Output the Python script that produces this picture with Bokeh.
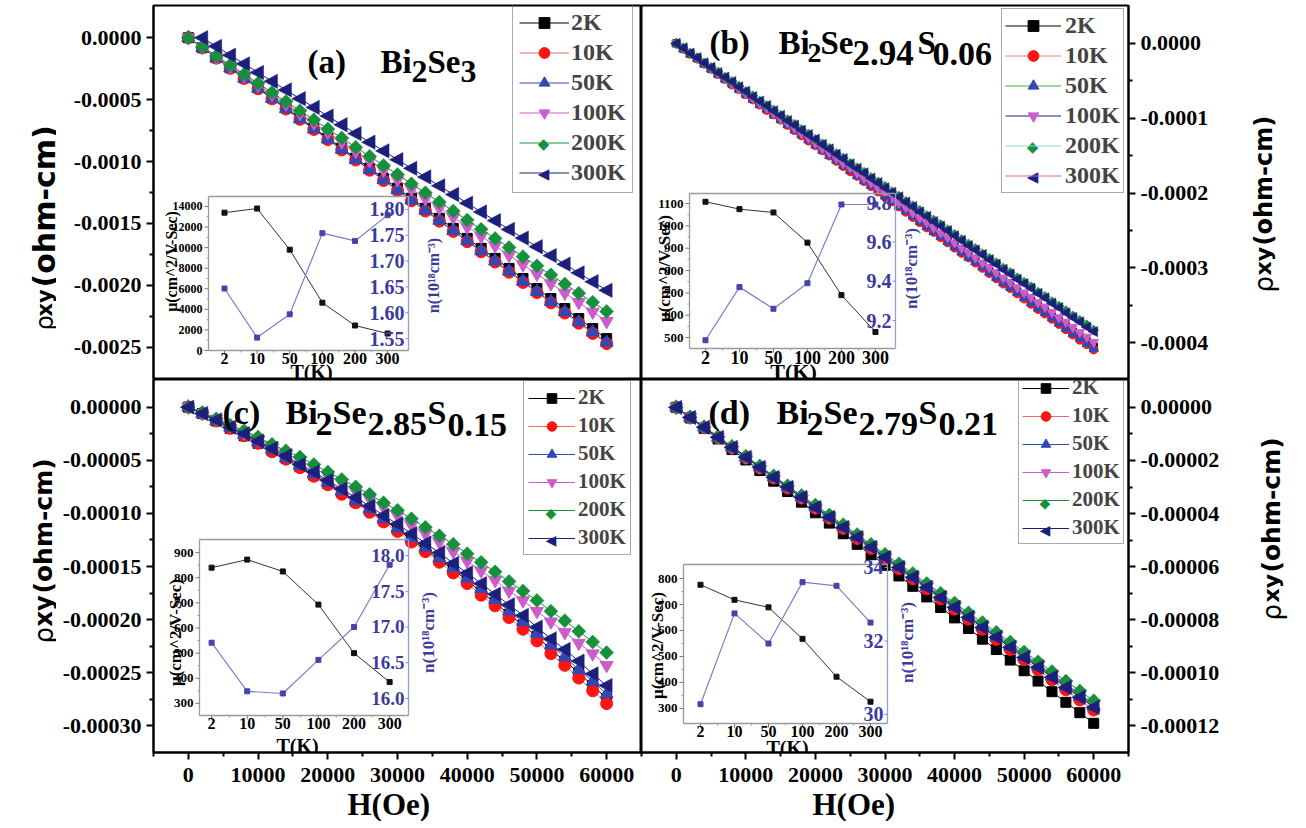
import numpy as np
from bokeh.plotting import figure
from bokeh.models import (Range1d, Label, FixedTicker, NumeralTickFormatter, Legend, LegendItem, Title)
from bokeh.layouts import column, row
from bokeh.embed import file_html
from bokeh.resources import INLINE

# ---------------- data ----------------
RHO_UNIT = 1e-6  # values below are in micro-ohm-cm

H2 = [0, 2000, 4000, 6000, 8000, 10000, 12000, 14000, 16000, 18000, 20000, 22000, 24000, 26000,
      28000, 30000, 32000, 34000, 36000, 38000, 40000, 42000, 44000, 46000, 48000, 50000, 52000,
      54000, 56000, 58000, 60000]
H1 = [0, 1000, 2000, 3000, 4000, 5000, 6000, 7000, 8000, 9000, 10000, 11000, 12000, 13000, 14000,
      15000, 16000, 17000, 18000, 19000, 20000, 21000, 22000, 23000, 24000, 25000, 26000, 27000,
      28000, 29000, 30000, 31000, 32000, 33000, 34000, 35000, 36000, 37000, 38000, 39000, 40000,
      41000, 42000, 43000, 44000, 45000, 46000, 47000, 48000, 49000, 50000, 51000, 52000, 53000,
      54000, 55000, 56000, 57000, 58000, 59000, 60000]
H2_300K_A = [2000, 4000, 6000, 8000, 10000, 12000, 14000, 16000, 18000, 20000, 22000, 24000, 26000,
             28000, 30000, 32000, 34000, 36000, 38000, 40000, 42000, 44000, 46000, 48000, 50000,
             52000, 54000, 56000, 58000, 60000]

TEMPS = ["2K", "10K", "50K", "100K", "200K", "300K"]

# (a) Bi2Se3
A_2K = [0, -81, -162, -243, -324, -405, -486, -567, -648, -729, -810, -891, -972, -1053, -1134, -1215,
        -1296, -1377, -1458, -1539, -1620, -1701, -1782, -1863, -1944, -2025, -2106, -2187, -2268, -2349, -2430]
A_10K = [0, -82, -165, -247, -329, -412, -494, -576, -659, -741, -823, -906, -988, -1070, -1153, -1235,
         -1317, -1400, -1482, -1564, -1647, -1729, -1811, -1894, -1976, -2058, -2141, -2223, -2305, -2388, -2470]
A_50K = [0, -82, -164, -246, -328, -410, -492, -574, -656, -738, -820, -902, -984, -1066, -1148, -1230,
         -1312, -1394, -1476, -1558, -1640, -1722, -1804, -1886, -1968, -2050, -2132, -2214, -2296, -2378, -2460]
A_100K = [0, -76, -153, -229, -305, -382, -458, -534, -611, -687, -763, -840, -916, -992, -1069, -1145,
          -1221, -1298, -1374, -1450, -1527, -1603, -1679, -1756, -1832, -1908, -1985, -2061, -2137, -2214, -2290]
A_200K = [0, -74, -147, -221, -295, -368, -442, -516, -589, -663, -737, -810, -884, -958, -1031, -1105,
          -1179, -1252, -1326, -1400, -1473, -1547, -1621, -1694, -1768, -1842, -1915, -1989, -2063, -2136, -2210]
A_300K = [0, -70, -141, -211, -281, -352, -422, -492, -563, -633, -703, -774, -844, -914, -985, -1055,
          -1125, -1196, -1266, -1336, -1407, -1477, -1548, -1618, -1688, -1759, -1829, -1899, -1970, -2040]

# (b) Bi2Se2.94S0.06
B_2K = [0, -7, -14, -20, -27, -34, -41, -47, -54, -61, -68, -74, -81, -88, -95, -101, -108, -115, -122, -128,
        -135, -142, -149, -155, -162, -169, -176, -182, -189, -196, -203, -209, -216, -223, -230, -236, -243,
        -250, -257, -263, -270, -277, -284, -290, -297, -304, -311, -317, -324, -331, -338, -344, -351, -358,
        -365, -371, -378, -385, -392, -398, -405]
B_10K = [0, -7, -14, -20, -27, -34, -41, -48, -55, -61, -68, -75, -82, -89, -95, -102, -109, -116, -123, -130,
         -136, -143, -150, -157, -164, -171, -177, -184, -191, -198, -205, -211, -218, -225, -232, -239, -246,
         -252, -259, -266, -273, -280, -286, -293, -300, -307, -314, -321, -327, -334, -341, -348, -355, -361,
         -368, -375, -382, -389, -396, -402, -409]
B_50K = [0, -7, -14, -20, -27, -34, -41, -48, -54, -61, -68, -75, -82, -88, -95, -102, -109, -116, -122, -129,
         -136, -143, -150, -156, -163, -170, -177, -184, -190, -197, -204, -211, -218, -224, -231, -238, -245,
         -252, -258, -265, -272, -279, -286, -292, -299, -306, -313, -320, -326, -333, -340, -347, -354, -360,
         -367, -374, -381, -388, -394, -401, -408]
B_100K = [0, -7, -13, -20, -27, -33, -40, -47, -53, -60, -67, -73, -80, -86, -93, -100, -106, -113, -120, -126,
          -133, -140, -146, -153, -160, -166, -173, -180, -186, -193, -200, -206, -213, -219, -226, -233, -239,
          -246, -253, -259, -266, -273, -279, -286, -293, -299, -306, -313, -319, -326, -333, -339, -346, -352,
          -359, -366, -372, -379, -386, -392, -399]
B_200K = [0, -6, -13, -19, -26, -32, -38, -45, -51, -57, -64, -70, -77, -83, -89, -96, -102, -108, -115, -121,
          -128, -134, -140, -147, -153, -160, -166, -172, -179, -185, -191, -198, -204, -211, -217, -223, -230,
          -236, -242, -249, -255, -262, -268, -274, -281, -287, -293, -300, -306, -313, -319, -325, -332, -338,
          -345, -351, -357, -364, -370, -376, -383]
B_300K = [0, -6, -13, -19, -26, -32, -39, -45, -51, -58, -64, -71, -77, -83, -90, -96, -103, -109, -116, -122,
          -128, -135, -141, -148, -154, -161, -167, -173, -180, -186, -193, -199, -205, -212, -218, -225, -231,
          -238, -244, -250, -257, -263, -270, -276, -282, -289, -295, -302, -308, -315, -321, -327, -334, -340,
          -347, -353, -360, -366, -372, -379, -385]

# (c) Bi2Se2.85S0.15
C_2K = [0, -6, -13, -20, -27, -34, -41, -48, -56, -64, -72, -80, -89, -97, -106, -115, -125, -134, -144, -153,
        -163, -174, -184, -195, -205, -216, -228, -239, -250, -262, -274]
C_10K = [0, -6, -13, -20, -27, -34, -42, -49, -57, -65, -73, -82, -90, -99, -108, -117, -127, -136, -146, -156,
         -166, -177, -187, -198, -209, -220, -232, -243, -255, -267, -279]
C_50K = [0, -6, -13, -19, -26, -33, -40, -48, -55, -63, -71, -79, -88, -96, -105, -114, -123, -132, -142, -151,
         -161, -171, -181, -192, -202, -213, -224, -235, -247, -258, -270]
C_100K = [0, -6, -11, -17, -24, -30, -36, -43, -50, -57, -64, -71, -79, -86, -94, -102, -111, -119, -127, -136,
          -145, -154, -163, -173, -182, -192, -202, -212, -222, -232, -243]
C_200K = [0, -5, -11, -17, -22, -28, -35, -41, -47, -54, -61, -68, -75, -82, -90, -97, -105, -113, -121, -129,
          -138, -146, -155, -164, -173, -182, -192, -201, -211, -221, -231]
C_300K = [0, -6, -12, -19, -25, -32, -39, -46, -54, -61, -69, -77, -85, -93, -102, -110, -119, -128, -137, -147,
          -156, -166, -176, -186, -196, -207, -218, -228, -239, -251, -262]

# (d) Bi2Se2.79S0.21
D_2K = [0, -4.0, -7.9, -11.9, -15.9, -19.8, -23.8, -27.8, -31.7, -35.7, -39.7, -43.6, -47.6, -51.6, -55.5,
        -59.5, -63.5, -67.4, -71.4, -75.4, -79.3, -83.3, -87.3, -91.2, -95.2, -99.2, -103.1, -107.1, -111.1,
        -115.0, -119.0]
D_10K = [0, -3.8, -7.6, -11.4, -15.2, -19.0, -22.8, -26.6, -30.4, -34.2, -38.0, -41.8, -45.6, -49.4, -53.2,
         -57.0, -60.8, -64.6, -68.4, -72.2, -76.0, -79.8, -83.6, -87.4, -91.2, -95.0, -98.8, -102.6, -106.4,
         -110.2, -114.0]
D_50K = [0, -3.8, -7.5, -11.3, -15.0, -18.8, -22.5, -26.3, -30.0, -33.8, -37.5, -41.3, -45.0, -48.8, -52.5,
         -56.3, -60.0, -63.8, -67.5, -71.3, -75.0, -78.8, -82.5, -86.3, -90.0, -93.8, -97.5, -101.3, -105.0,
         -108.8, -112.5]
D_100K = [0, -3.7, -7.4, -11.2, -14.9, -18.6, -22.3, -26.0, -29.7, -33.5, -37.2, -40.9, -44.6, -48.3, -52.0,
          -55.8, -59.5, -63.2, -66.9, -70.6, -74.3, -78.1, -81.8, -85.5, -89.2, -92.9, -96.6, -100.4, -104.1,
          -107.8, -111.5]
D_200K = [0, -3.7, -7.4, -11.1, -14.7, -18.4, -22.1, -25.8, -29.5, -33.2, -36.8, -40.5, -44.2, -47.9, -51.6,
          -55.3, -58.9, -62.6, -66.3, -70.0, -73.7, -77.4, -81.0, -84.7, -88.4, -92.1, -95.8, -99.5, -103.1,
          -106.8, -110.5]
D_300K = [0, -3.8, -7.5, -11.3, -15.1, -18.8, -22.6, -26.4, -30.1, -33.9, -37.7, -41.4, -45.2, -49.0, -52.7,
          -56.5, -60.3, -64.0, -67.8, -71.6, -75.3, -79.1, -82.9, -86.6, -90.4, -94.2, -97.9, -101.7, -105.5,
          -109.2, -113.0]

# insets: mobility mu (cm^2/V-s) and carrier density n vs T
T_LABELS = ["2", "10", "50", "100", "200", "300"]
MU_A = [13400, 13800, 9800, 4650, 2430, 1650]
N_A = [1.647, 1.552, 1.597, 1.754, 1.739, 1.789]
MU_B = [1108, 1075, 1060, 925, 690, 525]
N_B = [9.10, 9.37, 9.26, 9.39, 9.79, 9.79]
MU_C = [840, 872, 825, 693, 500, 385]
N_C = [16.78, 16.10, 16.07, 16.54, 17.00, 17.87]
MU_D = [776, 718, 689, 568, 422, 326]
N_D = [30.28, 32.75, 31.93, 33.60, 33.50, 32.50]

MU_TICKS_A = [0, 2000, 4000, 6000, 8000, 10000, 12000, 14000]
N_TICKS_A = [1.55, 1.60, 1.65, 1.70, 1.75, 1.80]
MU_TICKS_B = [500, 600, 700, 800, 900, 1000, 1100]
N_TICKS_B = [9.2, 9.4, 9.6, 9.8]
MU_TICKS_C = [300, 400, 500, 600, 700, 800, 900]
N_TICKS_C = [16.0, 16.5, 17.0, 17.5, 18.0]
MU_TICKS_D = [300, 400, 500, 600, 700, 800]
N_TICKS_D = [30, 32, 34]

# ---------------- style ----------------
SERIF = "Liberation Serif"
SANS = "DejaVu Sans"
# marker kinds: scatter markers, or drawn shapes ("diamond", "left") for shapes needing rotation
MARKERS = ["square", "circle", "triangle", "inverted_triangle", "diamond", "left"]
SIZES = [10, 12, 13, 13, 14, 13]
LEG_GLYPH = {"diamond": "◆", "left": "◀"}
MCOL = ["#000000", "#ff1414", "#3248b4", "#cc5ccc", "#16903a", "#1c1f7c"]
LCOL = ["#000000", "#f06a6a", "#3248b4", "#cc5ccc", "#16903a", "#1c1f7c"]
LCOL_B = ["#000000", "#f07a7a", "#3cb043", "#1c1f90", "#8cd8e0", "#cc5ccc"]
NCOL = "#3b3b9b"


def add_text(p, P, xr, yr, text, size, font=SERIF, style="bold", color="black", angle=0.0,
             align="left", baseline="alphabetic"):
    p.add_layout(Label(x=xr - P["fl"], y=P["fh"] - (yr - P["ft"]), x_units="screen", y_units="screen",
                       text=text, text_font=font, text_font_style=style, text_font_size=f"{size}px",
                       text_color=color, angle=angle, text_align=align, text_baseline=baseline))


def rng(lo, hi, p0, p1, total):
    k = (hi - lo) / (p1 - p0)
    s = lo - p0 * k
    return Range1d(s, s + total * k)


def style_axis(ax, ticks, minor, fmt, standoff):
    ax.ticker = FixedTicker(ticks=ticks, minor_ticks=minor)
    ax.formatter = NumeralTickFormatter(format=fmt)
    ax.major_label_text_font = SERIF
    ax.major_label_text_font_style = "bold"
    ax.major_label_text_font_size = "22px"
    ax.major_label_text_color = "black"
    ax.axis_line_width = 2
    ax.major_tick_line_width = 2
    ax.minor_tick_line_width = 2
    ax.major_tick_out = 7
    ax.major_tick_in = 0
    ax.minor_tick_out = 4
    ax.minor_tick_in = 0
    ax.major_label_standoff = standoff
    ax.axis_label = None
    ax.axis_label_standoff = 0


def add_inset(p, P, I):
    FH = P["fh"]
    L, T, R, B = I["box"]
    bx0, bx1 = L - P["fl"], R - P["fl"]
    by0, by1 = FH - (B - P["ft"]), FH - (T - P["ft"])
    p.extra_x_ranges = {"ix": rng(I["xlim"][0], I["xlim"][1], bx0, bx1, P["fw"])}
    p.extra_y_ranges = {"imu": rng(I["mu_lim"][0], I["mu_lim"][1], by0, by1, FH),
                        "in": rng(I["n_lim"][0], I["n_lim"][1], by0, by1, FH)}
    x0, x1 = I["xlim"]
    m0, m1 = I["mu_lim"]
    kx = (x1 - x0) / (bx1 - bx0)
    km = (m1 - m0) / (by1 - by0)
    kw = dict(x_range_name="ix", y_range_name="imu")
    kn = dict(x_range_name="ix", y_range_name="in")
    # box
    p.segment(x0=[x0, x0, x0], y0=[m0, m0, m1], x1=[x1, x0, x1], y1=[m0, m1, m1],
              line_color="#9a9a9a", line_width=1.3, **kw)
    p.segment(x0=[x1], y0=[m0], x1=[x1], y1=[m1], line_color="#9c9cd4", line_width=1.3, **kw)
    # ticks
    mt = I["mu_ticks"]
    mminor = [(a + b) / 2 for a, b in zip(mt[:-1], mt[1:])]
    p.segment(x0=[x0] * len(mt), y0=mt, x1=[x0 - 4 * kx] * len(mt), y1=mt, line_color="#777777", line_width=1, **kw)
    p.segment(x0=[x0] * len(mminor), y0=mminor, x1=[x0 - 2 * kx] * len(mminor), y1=mminor,
              line_color="#999999", line_width=1, **kw)
    idx = list(range(len(T_LABELS)))
    p.segment(x0=idx, y0=[m0] * 6, x1=idx, y1=[m0 - 4 * km] * 6, line_color="#777777", line_width=1, **kw)
    mids = [i + 0.5 for i in idx[:-1]]
    p.segment(x0=mids, y0=[m0] * 5, x1=mids, y1=[m0 - 2 * km] * 5, line_color="#999999", line_width=1, **kw)
    nt = I["n_ticks"]
    p.segment(x0=[x1] * len(nt), y0=nt, x1=[x1 - 3 * kx] * len(nt), y1=nt, line_color="#8888c8", line_width=1, **kn)
    # series
    p.line(idx, I["mu"], line_color="#333333", line_width=1, **kw)
    p.scatter(idx, I["mu"], marker="square", size=5, color="#111111", **kw)
    p.line(idx, I["n"], line_color="#7c7cd0", line_width=1.2, **kn)
    p.scatter(idx, I["n"], marker="square", size=5, color="#4545a8", **kn)
    # tick labels
    for t in mt:
        p.add_layout(Label(x=x0 - 6 * kx, y=t, text=str(t), text_align="right", text_baseline="middle",
                           text_font=SERIF, text_font_style="bold", text_font_size=f'{I["fs_mu"]}px',
                           text_color="black", **kw))
    for t in nt:
        p.add_layout(Label(x=x1 - 4 * kx, y=t, text=I["n_fmt"].format(t), text_align="right",
                           text_baseline="middle", text_font=SERIF, text_font_style="bold",
                           text_font_size=f'{I["fs_n"]}px', text_color=NCOL, **kn))
    for i, lab in zip(idx, T_LABELS):
        p.add_layout(Label(x=i, y=m0 - 2 * km, text=lab, text_align="center", text_baseline="top",
                           text_font=SERIF, text_font_style="bold", text_font_size=f'{I["fs_x"]}px',
                           text_color="black", **kw))
    # titles
    xb, yc, fs = I["mu_title"]
    add_text(p, P, xb, yc, "μ(cm^2/V-Sec)", fs, angle=np.pi / 2, align="center")
    xb, yc, fs = I["n_title"]
    add_text(p, P, xb, yc, "n(10¹⁸cm⁻³)", fs, color=NCOL, angle=np.pi / 2, align="center")
    xc, yt, fs = I["tk"]
    add_text(p, P, xc, yt, "T(K)", fs, align="center", baseline="top")


INSETS = {
    "a": dict(box=(208, 196, 408, 350), xlim=(-0.49, 5.64), mu_lim=(0, 14970), n_lim=(1.527, 1.825),
              mu=MU_A, n=N_A, mu_ticks=MU_TICKS_A, n_ticks=N_TICKS_A, n_fmt="{:.2f}",
              fs_mu=12, fs_n=20, fs_x=16, mu_title=(171, 261, 16), n_title=(433, 275, 16), tk=(311, 360, 20)),
    "b": dict(box=(689, 193, 895, 348), xlim=(-0.47, 5.59), mu_lim=(451, 1145), n_lim=(9.058, 9.846),
              mu=MU_B, n=N_B, mu_ticks=MU_TICKS_B, n_ticks=N_TICKS_B, n_fmt="{:.1f}",
              fs_mu=13, fs_n=20, fs_x=18, mu_title=(664, 268, 17), n_title=(911, 268, 17), tk=(793, 358, 22)),
    "c": dict(box=(199, 539, 408, 715), xlim=(-0.34, 5.53), mu_lim=(252, 952), n_lim=(15.762, 18.224),
              mu=MU_C, n=N_C, mu_ticks=MU_TICKS_C, n_ticks=N_TICKS_C, n_fmt="{:.1f}",
              fs_mu=13, fs_n=19, fs_x=16, mu_title=(175, 632, 17), n_title=(428, 632, 17), tk=(297, 734, 20)),
    "d": dict(box=(683, 564, 887, 723), xlim=(-0.5, 5.5), mu_lim=(242, 854), n_lim=(29.755, 34.08),
              mu=MU_D, n=N_D, mu_ticks=MU_TICKS_D, n_ticks=N_TICKS_D, n_fmt="{:.0f}",
              fs_mu=13, fs_n=20, fs_x=16, mu_title=(657, 645, 17), n_title=(907, 642, 17), tk=(787, 736, 20)),
}

X_TICKS = [0, 10000, 20000, 30000, 40000, 50000, 60000]
X_MINOR = [-5000, 5000, 15000, 25000, 35000, 45000, 55000, 65000]
X_RANGE = (-5000, 65000)

# layout geometry (page pixels)
LT_W = 56          # left title strip
RT_W = 79          # right title strip
STRIP_H = 760

PANELS = [
    dict(key="a", fl=153, ft=5, fw=488, fh=374, yloc="left", xloc=None, mb=(97, 0, 5, 0),
         yr=(-0.00276, 0.00026), yt=[0, -0.0005, -0.001, -0.0015, -0.002, -0.0025],
         ym=[-0.00025, -0.00075, -0.00125, -0.00175, -0.00225], yfmt="0.0000",
         H=[H2, H2, H2, H2, H2, H2_300K_A], R=[A_2K, A_10K, A_50K, A_100K, A_200K, A_300K],
         msz=1.0, lcol=LCOL,
         leg=dict(loc=(359, 186), fs=24, gw=50, gh=27, sp=3, pad=6, so=2, gfs=15),
         title=[(307, 61, "(a)", 33), (380, 61, "Bi", 33), (411, 71, "2", 32), (427, 61, "Se", 33),
                (460, 71, "3", 32)],
         ytitle=(44, [(330, "ρ", 24, "normal"), (316, "xy", 21, "bold"), (287, "(ohm-cm)", 30, "bold")])),
    dict(key="b", fl=641, ft=5, fw=487, fh=374, yloc="right", xloc=None, mb=(0, 97, 5, 0),
         yr=(-0.000449, 0.0000507), yt=[0, -0.0001, -0.0002, -0.0003, -0.0004],
         ym=[-0.00005, -0.00015, -0.00025, -0.00035], yfmt="0.0000",
         H=[H1] * 6, R=[B_2K, B_10K, B_50K, B_100K, B_200K, B_300K],
         msz=0.72, lcol=LCOL_B,
         leg=dict(loc=(360, 186), fs=24, gw=56, gh=27, sp=3, pad=3, so=4, gfs=15),
         title=[(709, 42, "(b)", 33), (778, 42, "Bi", 33), (807, 52, "2", 28), (820, 42, "Se", 33),
                (852, 52, "2.94", 35), (917, 42, "S", 33), (932, 53, "0.06", 34)],
         ytitle=(1263, [(292, "ρ", 26, "normal"), (275, "xy", 22, "bold"), (245, "(ohm-cm)", 24, "bold")])),
    dict(key="c", fl=153, ft=379, fw=488, fh=373, yloc="left", xloc="below", mb=(97, 0, 0, 0),
         yr=(-0.000325, 0.000026),
         yt=[0, -0.00005, -0.0001, -0.00015, -0.0002, -0.00025, -0.0003],
         ym=[-0.000025, -0.000075, -0.000125, -0.000175, -0.000225, -0.000275], yfmt="0.00000",
         H=[H2] * 6, R=[C_2K, C_10K, C_50K, C_100K, C_200K, C_300K],
         msz=1.0, lcol=LCOL,
         leg=dict(loc=(370, 197), fs=21, gw=47, gh=24, sp=3, pad=4, so=3, gfs=14),
         title=[(222, 412, "(c)", 34), (285, 412, "Bi", 34), (315, 423, "2", 34), (332, 412, "Se", 34),
                (367, 423, "2.85", 34), (427, 412, "S", 34), (447, 424, "0.15", 34)],
         ytitle=(43, [(643, "ρ", 26, "normal"), (626, "xy", 24, "bold"), (593, "(ohm-cm)", 25, "bold")]),
         xtitle_left=347),
    dict(key="d", fl=641, ft=379, fw=487, fh=373, yloc="right", xloc="below", mb=(0, 97, 0, 0),
         yr=(-0.00013, 0.0000105),
         yt=[0, -0.00002, -0.00004, -0.00006, -0.00008, -0.0001, -0.00012],
         ym=[-0.00001, -0.00003, -0.00005, -0.00007, -0.00009, -0.00011], yfmt="0.00000",
         H=[H2] * 6, R=[D_2K, D_10K, D_50K, D_100K, D_200K, D_300K],
         msz=1.0, lcol=LCOL,
         leg=dict(loc=(377, 208), fs=21, gw=47, gh=24, sp=3, pad=3, so=3, gfs=14),
         title=[(708, 412, "(d)", 34), (776, 412, "Bi", 34), (806, 423, "2", 34), (823, 412, "Se", 34),
                (858, 423, "2.79", 34), (918, 412, "S", 34), (938, 423, "0.21", 34)],
         ytitle=(1271, [(620, "ρ", 26, "normal"), (602, "xy", 22, "bold"), (572, "(ohm-cm)", 25, "bold")]),
         xtitle_left=812),
]


def blank_fig(w, h):
    f = figure(width=w, height=h, x_range=Range1d(0, w), y_range=Range1d(0, h),
               x_axis_location=None, y_axis_location=None, toolbar_location=None,
               output_backend="svg", title=None, min_border=0,
               min_border_left=0, min_border_right=0, min_border_top=0, min_border_bottom=0)
    f.xgrid.visible = False
    f.ygrid.visible = False
    f.outline_line_color = None
    f.background_fill_color = "white"
    f.border_fill_color = "white"
    return f


def btext(f, x, y, text, size, font=SERIF, style="bold", color="black", angle=0.0,
          align="left", baseline="alphabetic"):
    f.add_layout(Label(x=x, y=y, text=text, text_font=font, text_font_style=style,
                       text_font_size=f"{size}px", text_color=color, angle=angle,
                       text_align=align, text_baseline=baseline))


def shape_patches(p, P, hs, ys, kind, s, color):
    # shapes drawn as patches around each data point; s is the marker size in pixels
    kx = (X_RANGE[1] - X_RANGE[0]) / P["fw"]
    ky = (P["yr"][1] - P["yr"][0]) / P["fh"]
    if kind == "left":
        xs = [[x - 0.62 * s * kx, x + 0.42 * s * kx, x + 0.42 * s * kx] for x in hs]
        yy = [[y, y + 0.55 * s * ky, y - 0.55 * s * ky] for y in ys]
    else:
        xs = [[x - 0.5 * s * kx, x, x + 0.5 * s * kx, x] for x in hs]
        yy = [[y, y + 0.5 * s * ky, y, y - 0.5 * s * ky] for y in ys]
    return p.patches(xs, yy, fill_color=color, line_color=color, line_width=0.5)


def make_panel(P):
    mb = P["mb"]
    p = figure(frame_width=P["fw"], frame_height=P["fh"], x_range=Range1d(*X_RANGE),
               y_range=Range1d(*P["yr"]), x_axis_location=P["xloc"], y_axis_location=P["yloc"],
               toolbar_location=None, output_backend="svg", title=None,
               min_border_left=mb[0], min_border_right=mb[1], min_border_top=mb[2], min_border_bottom=mb[3])
    p.xgrid.visible = False
    p.ygrid.visible = False
    p.outline_line_color = "black"
    p.outline_line_width = 2
    p.background_fill_color = "white"
    p.border_fill_color = "white"
    style_axis(p.yaxis[0], P["yt"], P["ym"], P["yfmt"], 5)
    if P["xloc"] is not None:
        style_axis(p.xaxis[0], X_TICKS, X_MINOR, "0", 8)

    # legend glyphs for the drawn shapes, placed first so the (transparent) legend sits over them
    L = P["leg"]
    n = len(TEMPS)
    for i in range(n):
        if MARKERS[i] in LEG_GLYPH:
            gx = L["loc"][0] + L["pad"] + L["gw"] / 2
            gy = L["loc"][1] + L["pad"] + (n - 1 - i) * (L["gh"] + L["sp"]) + L["gh"] / 2
            p.add_layout(Label(x=gx, y=gy, x_units="screen", y_units="screen", text=LEG_GLYPH[MARKERS[i]],
                               text_font=SANS, text_font_size=f'{L["gfs"]}px', text_color=MCOL[i],
                               text_align="center", text_baseline="middle"))

    items = []
    for i, (h, r) in enumerate(zip(P["H"], P["R"])):
        yv = [v * RHO_UNIT for v in r]
        lr = p.line(h, yv, line_color=P["lcol"][i], line_width=1)
        s = SIZES[i] * P["msz"]
        if MARKERS[i] in LEG_GLYPH:
            shape_patches(p, P, h, yv, MARKERS[i], s, MCOL[i])
            items.append(LegendItem(label=TEMPS[i], renderers=[lr]))
        else:
            sr = p.scatter(h, yv, marker=MARKERS[i], size=s, fill_color=MCOL[i], line_color=MCOL[i])
            items.append(LegendItem(label=TEMPS[i], renderers=[lr, sr]))

    leg = Legend(items=items, location=L["loc"], orientation="vertical",
                 label_text_font=SERIF, label_text_font_style="bold", label_text_font_size=f'{L["fs"]}px',
                 glyph_width=L["gw"], glyph_height=L["gh"], label_height=L["gh"], spacing=L["sp"],
                 padding=L["pad"], label_standoff=L["so"], margin=0,
                 border_line_color="#555555", border_line_width=1.2,
                 background_fill_color="white", background_fill_alpha=0.0)
    p.add_layout(leg)

    add_inset(p, P, INSETS[P["key"]])

    for (x, y, t, s) in P["title"]:
        add_text(p, P, x, y, t, s)
    if "xtitle_left" in P:
        p.add_layout(Title(text="H(Oe)", align="left", offset=P["xtitle_left"] - P["fl"], standoff=0,
                           text_font=SERIF, text_font_style="bold", text_font_size="31px",
                           text_color="black"), "below")
    return p


figs = [make_panel(P) for P in PANELS]

# y-axis titles (rotated, mixed styles) in side strips
left_strip = blank_fig(LT_W, STRIP_H)
right_strip = blank_fig(RT_W, STRIP_H)
RIGHT_X0 = LT_W + 97 + 488 + 487 + 97
for P in PANELS:
    xb, parts = P["ytitle"]
    strip, x0 = (left_strip, 0) if P["yloc"] == "left" else (right_strip, RIGHT_X0)
    for (y, t, s, st) in parts:
        btext(strip, xb - x0, STRIP_H - y, t, s, font=SANS, style=st, angle=np.pi / 2)

grid = column(row(figs[0], figs[1]), row(figs[2], figs[3]))
layout = row(left_strip, grid, right_strip)
open("out.html", "w").write(file_html(layout, INLINE))
